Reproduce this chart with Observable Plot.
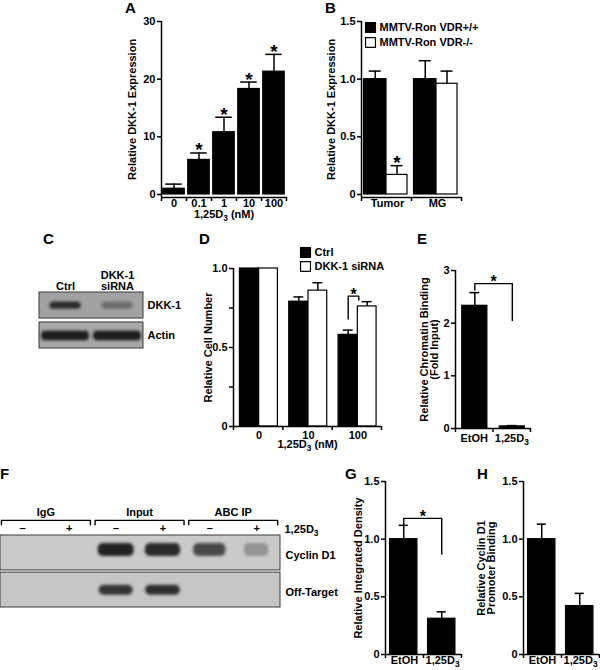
<!DOCTYPE html>
<html>
<head>
<meta charset="utf-8">
<script src="https://cdn.jsdelivr.net/npm/d3@7"></script>
<script src="https://cdn.jsdelivr.net/npm/@observablehq/plot@0.6"></script>
<style>
  html, body { margin: 0; padding: 0; background: #fff; }
  #fig { position: relative; width: 600px; height: 670px; overflow: hidden; font-family: "Liberation Sans", Arial, sans-serif; font-weight: bold; color: #000; }
  .letter { position: absolute; font-size: 15px; line-height: 1; font-weight: bold; }
</style>
</head>
<body>
<div id="fig"></div>
<script>
// ---------------- data ----------------
const aDoses = ["0", "0.1", "1", "10", "100"];
const aMean = [1.0, 6.0, 10.8, 18.3, 21.3];
const aErr = [0.8, 1.2, 2.6, 1.2, 3.0];
const aSig = [false, true, true, true, true];
const aTicks = [0, 10, 20, 30];

const bGroups = ["Tumor", "MG"];
const bSeries = ["MMTV-Ron VDR+/+", "MMTV-Ron VDR-/-"];
const bWtMean = [1.0, 1.0];
const bWtErr = [0.07, 0.16];
const bKoMean = [0.17, 0.96];
const bKoErr = [0.08, 0.11];
const bKoSig = [true, false];
const bTicks = [0, 0.5, 1.0, 1.5];

const cLanes = ["Ctrl", "DKK-1\nsiRNA"];
const cRows = ["DKK-1", "Actin"];
const cDkk1 = [0.85, 0.4];
const cActin = [0.95, 0.95];

const dDoses = ["0", "10", "100"];
const dSeries = ["Ctrl", "DKK-1 siRNA"];
const dCtrlMean = [1.0, 0.79, 0.58];
const dCtrlErr = [0, 0.03, 0.03];
const dSiMean = [1.0, 0.86, 0.76];
const dSiErr = [0, 0.05, 0.03];
const dSig = [false, false, true];
const dTicks = [0, 0.25, 0.5, 0.75, 1.0];
const dTickLabels = ["0", "", "0.5", "", "1.0"];

const eCats = ["EtOH", "1,25D3"];
const eMean = [2.33, 0.04];
const eErr = [0.25, 0.015];
const eTicks = [0, 1, 2, 3];

const fGroups = ["IgG", "Input", "ABC IP"];
const fLanes = ["\u2013", "+", "\u2013", "+", "\u2013", "+"];
const fRows = ["Cyclin D1", "Off-Target"];
const fCyclin = [0, 0, 0.92, 0.88, 0.72, 0.3];
const fOffTarget = [0, 0, 0.82, 0.86, 0, 0];

const gCats = ["EtOH", "1,25D3"];
const gMean = [1.0, 0.31];
const gErr = [0.12, 0.06];
const hMean = [1.0, 0.42];
const hErr = [0.13, 0.11];
const ghTicks = [0, 0.5, 1.0, 1.5];

// ---------------- helpers ----------------
const NS = "http://www.w3.org/2000/svg";
const fig = document.getElementById("fig");
const STYLE = "position:absolute;left:0;top:0;background:transparent;overflow:visible;max-width:none;font-family:'Liberation Sans',Arial,sans-serif;font-size:11px;font-weight:bold;color:#000;";

function chart([l, r, t, b], options) {
  const svg = Plot.plot({
    width: 600, height: 670,
    marginLeft: l, marginRight: 600 - r, marginTop: t, marginBottom: 670 - b,
    style: STYLE,
    ...options,
    x: {label: null, ...(options.x || {})},
    y: {label: null, ...(options.y || {})}
  });
  fig.appendChild(svg);
  return svg;
}

const mid = d => (d.x1 + d.x2) / 2;
const fmt1 = v => v === 0 ? "0" : v.toFixed(1);

function barMarks(bars, cap) {
  const e = bars.filter(d => d.err > 0);
  return [
    Plot.rect(bars, {x1: d => d.x1, x2: d => d.x2, y1: 0, y2: d => d.y, fill: d => d.fill, stroke: "#000", strokeWidth: 1.2}),
    Plot.ruleX(e, {x: mid, y1: d => d.y, y2: d => d.y + d.err, strokeWidth: 1.5}),
    Plot.ruleY(e, {y: d => d.y + d.err, x1: d => mid(d) - cap, x2: d => mid(d) + cap, strokeWidth: 1.5})
  ];
}

function stars(data, x, y, size, dy) {
  return Plot.text(data, {x, y, text: () => "*", fontSize: size, lineAnchor: "top", dy});
}

function axesMarks({xDom, yLo, yTop, yTicks, yFmt, bounds, centers, names, pad}) {
  return [
    Plot.ruleX([xDom[0]], {y1: yLo, y2: yTop, strokeWidth: 1.5}),
    Plot.ruleY([yLo], {x1: xDom[0], x2: xDom[1], strokeWidth: 1.5}),
    Plot.axisY(yTicks, {tickSize: 4, tickPadding: 2, tickFormat: yFmt, strokeWidth: 1.5, label: null}),
    Plot.axisX(bounds, {tickSize: 4, tickFormat: () => "", strokeWidth: 1.5, label: null}),
    Plot.axisX(centers, {tickSize: 0, tickPadding: pad, tickFormat: v => names[centers.indexOf(v)], label: null})
  ];
}

function yLabel(label, dx) {
  return Plot.text([label], {text: d => d, frameAnchor: "left", textAnchor: "middle", lineAnchor: "middle",
    rotate: -90, dx, lineHeight: 0.92, fontSize: 11});
}
function xLabel(label, dy) {
  return Plot.text([label], {text: d => d, frameAnchor: "bottom", textAnchor: "middle", dy, lineAnchor: "top", fontSize: 11});
}
function legendMarks(series, dx, dy0, step) {
  const out = [];
  series.forEach((s, i) => {
    out.push(Plot.dot([s], {frameAnchor: "top-left", dx, dy: dy0 + i * step, symbol: "square", r: 5.6,
      fill: i === 0 ? "#000" : "#fff", stroke: "#000", strokeWidth: 1.2}));
    out.push(Plot.text([s], {text: d => d, frameAnchor: "top-left", dx: dx + 9, dy: dy0 + i * step,
      textAnchor: "start", lineAnchor: "middle", fontSize: 11}));
  });
  return out;
}
function bracket(pts) {
  return Plot.line(pts, {x: d => d.x, y: d => d.y, z: d => d.k, strokeWidth: 1.4, curve: "linear"});
}

function addBlur(svg, id, sd) {
  const defs = document.createElementNS(NS, "defs");
  defs.innerHTML = `<filter id="${id}" x="-30%" y="-80%" width="160%" height="260%"><feGaussianBlur stdDeviation="${sd}"/></filter>`;
  svg.insertBefore(defs, svg.firstChild);
  const g = svg.querySelector('[aria-description="bands"]') || [...svg.querySelectorAll('g[aria-label="rect"]')].pop();
  if (g) g.setAttribute("filter", `url(#${id})`);
}

// ---------------- Panel A ----------------
const aBars = aDoses.map((d, i) => ({x1: i + 0.07, x2: i + 0.93, y: aMean[i], err: aErr[i], fill: "#000", sig: aSig[i]}));
chart([161, 286, 21, 197], {
  x: {domain: [0, aDoses.length]},
  y: {domain: [-0.52, 30]},
  marks: [
    ...barMarks(aBars, 0.33),
    stars(aBars.filter(d => d.sig), mid, d => d.y + d.err, 19, -10),
    ...axesMarks({xDom: [0, aDoses.length], yLo: -0.52, yTop: 30, yTicks: aTicks, yFmt: d3.format("d"),
      bounds: d3.range(aDoses.length + 1), centers: aDoses.map((d, i) => i + 0.5), names: aDoses, pad: 2}),
    yLabel("Relative DKK-1 Expression", -29),
    xLabel("1,25D3 (nM)", 13)
  ]
});

// ---------------- Panel B ----------------
const bBars = [];
bGroups.forEach((g, i) => {
  bBars.push({x1: i + 0.05, x2: i + 0.5, y: bWtMean[i], err: bWtErr[i], fill: "#000", sig: false});
  bBars.push({x1: i + 0.5, x2: i + 0.92, y: bKoMean[i], err: bKoErr[i], fill: "#fff", sig: bKoSig[i]});
});
chart([361, 461, 21, 197], {
  x: {domain: [0, bGroups.length]},
  y: {domain: [-0.026, 1.5]},
  marks: [
    ...barMarks(bBars, 0.12),
    stars(bBars.filter(d => d.sig), mid, d => d.y + d.err, 19, -10),
    ...axesMarks({xDom: [0, bGroups.length], yLo: -0.026, yTop: 1.5, yTicks: bTicks, yFmt: fmt1,
      bounds: d3.range(bGroups.length + 1), centers: bGroups.map((d, i) => i + 0.52), names: bGroups, pad: 2}),
    yLabel("Relative DKK-1 Expression", -30),
    ...legendMarks(bSeries, 9, 6, 15)
  ]
});

// ---------------- Panel C (blot) ----------------
const cData = [cDkk1, cActin];
const cBands = [];
cRows.forEach((r, ri) => cLanes.forEach((l, li) => cBands.push({ri, li, v: cData[ri][li]})));
const cBandY = [0.47, 1.55], cBandH = [0.13, 0.17], cBandW = [0.3, 0.46];
const cSvg = chart([39, 143, 292, 348], {
  x: {domain: [-0.5, cLanes.length - 0.5], axis: null},
  y: {domain: [0, 2], reverse: true, axis: null},
  marks: [
    Plot.rect(cRows, {x1: -0.5, x2: cLanes.length - 0.5, y1: (d, i) => i === 0 ? 0 : 1.07, y2: (d, i) => i === 0 ? 0.93 : 2,
      fill: (d, i) => i === 0 ? "#a2a2a2" : "#a8a8a8", stroke: "#3a3a3a", strokeWidth: 1}),
    Plot.rect(cBands.filter(d => d.v > 0), {
      x1: d => d.li - cBandW[d.ri], x2: d => d.li + cBandW[d.ri],
      y1: d => cBandY[d.ri] - cBandH[d.ri], y2: d => cBandY[d.ri] + cBandH[d.ri],
      fill: d => d3.interpolateRgb("#a6a6a6", "#141414")(d.v), rx: 4, ariaDescription: "bands"}),
    Plot.text(cLanes, {x: (d, i) => i, y: 0, text: d => d, lineAnchor: "bottom", dy: -3, lineHeight: 1.0, fontSize: 11}),
    Plot.text(cRows, {x: cLanes.length - 0.5, y: (d, i) => cBandY[i], text: d => d, textAnchor: "start", dx: 4, fontSize: 11})
  ]
});
addBlur(cSvg, "blurC", 1.4);

// ---------------- Panel D ----------------
const dCtrl = dDoses.map((d, i) => ({x1: i + 0.13, x2: i + 0.52, y: dCtrlMean[i], err: dCtrlErr[i], fill: "#000"}));
const dSi = dDoses.map((d, i) => ({x1: i + 0.52, x2: i + 0.9, y: dSiMean[i], err: dSiErr[i], fill: "#fff"}));
const dBr = [], dStar = [];
dDoses.forEach((g, i) => {
  if (!dSig[i]) return;
  const b = dCtrl[i], w = dSi[i];
  const top = Math.max(b.y + b.err, w.y + w.err) + 0.035;
  const lx = mid(b), rx = w.x1 + 0.02;
  dBr.push({k: i, x: lx, y: b.y + b.err + 0.07}, {k: i, x: lx, y: top}, {k: i, x: rx, y: top}, {k: i, x: rx, y: w.y + w.err + 0.01});
  dStar.push({x: (lx + rx) / 2, y: top});
});
chart([233, 381, 268, 426], {
  x: {domain: [0, dDoses.length]},
  y: {domain: [0, 1]},
  marks: [
    ...barMarks([...dCtrl, ...dSi], 0.1),
    bracket(dBr),
    stars(dStar, d => d.x, d => d.y, 16, -8),
    ...axesMarks({xDom: [0, dDoses.length], yLo: 0, yTop: 1, yTicks: dTicks, yFmt: v => dTickLabels[dTicks.indexOf(v)],
      bounds: d3.range(dDoses.length + 1), centers: dDoses.map((d, i) => i + 0.52), names: dDoses, pad: 5}),
    yLabel("Relative Cell Number", -25),
    xLabel("1,25D3 (nM)", 14),
    ...legendMarks(dSeries, 72, -16, 14)
  ]
});

// ---------------- Panel E ----------------
const eBars = eCats.map((d, i) => ({x1: i + 0.18, x2: i + 0.85, y: eMean[i], err: eErr[i], fill: "#000"}));
const eTop = eBars[0].y + eBars[0].err;
const eBr = [
  {k: 0, x: mid(eBars[0]), y: eTop + 0.05}, {k: 0, x: mid(eBars[0]), y: eTop + 0.17},
  {k: 0, x: mid(eBars[1]), y: eTop + 0.17}, {k: 0, x: mid(eBars[1]), y: eTop - 0.53}
];
chart([455, 530, 270, 428], {
  x: {domain: [0, eCats.length]},
  y: {domain: [0, 3]},
  marks: [
    ...barMarks(eBars, 0.13),
    bracket(eBr),
    stars([{x: (mid(eBars[0]) + mid(eBars[1])) / 2, y: eTop + 0.17}], d => d.x, d => d.y, 16, -8),
    ...axesMarks({xDom: [0, eCats.length], yLo: 0, yTop: 3, yTicks: eTicks, yFmt: d3.format("d"),
      bounds: d3.range(eCats.length + 1), centers: eCats.map((d, i) => i + 0.5), names: eCats, pad: 6}),
    yLabel("Relative Chromatin Binding\n(Fold Input)", -26)
  ]
});

// ---------------- Panel F (blot) ----------------
const fData = [fCyclin, fOffTarget];
const fBands = [];
fRows.forEach((r, ri) => fLanes.forEach((l, li) => fBands.push({ri, li, v: fData[ri][li]})));
const fBandY = [0.4, 1.52], fBandH = [0.18, 0.14];
const fX0 = -0.47, fX1 = 5.51;
const fBr = [];
fGroups.forEach((g, k) => {
  const a = 2 * k - 0.45, b = 2 * k + 1.45;
  fBr.push({k, x: a, y: -0.3}, {k, x: a, y: -0.42}, {k, x: b, y: -0.42}, {k, x: b, y: -0.3});
});
const fSvg = chart([0, 280, 535, 607], {
  x: {domain: [fX0, fX1], axis: null},
  y: {domain: [0, 2], reverse: true, axis: null},
  marks: [
    Plot.rect(fRows, {x1: fX0, x2: fX1, y1: (d, i) => i === 0 ? 0 : 1.03, y2: (d, i) => i === 0 ? 0.97 : 2,
      fill: (d, i) => i === 0 ? "#cacaca" : "#c6c6c6", stroke: "#3a3a3a", strokeWidth: 1}),
    Plot.rect(fBands.filter(d => d.v > 0), {
      x1: d => d.li - (0.2 + 0.2 * d.v), x2: d => d.li + (0.2 + 0.2 * d.v),
      y1: d => fBandY[d.ri] - fBandH[d.ri], y2: d => fBandY[d.ri] + fBandH[d.ri],
      fill: d => d3.interpolateRgb("#c8c8c8", "#161616")(d.v), rx: 5, ariaDescription: "bands"}),
    bracket(fBr),
    Plot.text(fGroups, {x: (d, k) => 2 * k + 0.5, y: -0.64, text: d => d, fontSize: 11}),
    Plot.text(fLanes, {x: (d, i) => i, y: -0.19, text: d => d, fontSize: 11}),
    Plot.text(["1,25D3"], {x: fX1, y: -0.17, text: d => d, textAnchor: "start", dx: 4, fontSize: 11}),
    Plot.text(fRows, {x: fX1, y: (d, i) => i === 0 ? 0.55 : 1.58, text: d => d, textAnchor: "start", dx: 5, fontSize: 11})
  ]
});
addBlur(fSvg, "blurF", 1.6);

// ---------------- Panels G & H ----------------
function ghPanel(frame, mean, err, label, dx, sigBracket) {
  const bars = gCats.map((d, i) => ({x1: i + 0.12, x2: i + 0.84, y: mean[i], err: err[i], fill: "#000"}));
  const marks = [...barMarks(bars, 0.12)];
  if (sigBracket) {
    const t0 = bars[0].y + bars[0].err;
    const top = t0 + 0.06;
    marks.push(bracket([
      {k: 0, x: mid(bars[0]), y: t0}, {k: 0, x: mid(bars[0]), y: top},
      {k: 0, x: mid(bars[1]), y: top}, {k: 0, x: mid(bars[1]), y: top - 0.31}
    ]));
    marks.push(stars([{x: (mid(bars[0]) + mid(bars[1])) / 2, y: top}], d => d.x, d => d.y, 16, -8));
  }
  marks.push(...axesMarks({xDom: [0, gCats.length], yLo: 0, yTop: 1.5, yTicks: ghTicks, yFmt: fmt1,
    bounds: d3.range(gCats.length + 1), centers: gCats.map((d, i) => i + 0.5), names: gCats, pad: 2}));
  marks.push(yLabel(label, dx));
  chart(frame, {x: {domain: [0, gCats.length]}, y: {domain: [0, 1.5]}, marks});
}
ghPanel([385, 461, 481, 654], gMean, gErr, "Relative Integrated Density", -27, true);
ghPanel([523, 599, 481, 654], hMean, hErr, "Relative Cyclin D1\nPromoter Binding", -37, false);

// ---------------- subscripts ----------------
fig.querySelectorAll("text, tspan").forEach(t => {
  if (t.childElementCount > 0) return;
  const s = t.textContent;
  const k = s.indexOf("D3");
  if (k < 0) return;
  t.textContent = s.slice(0, k + 1);
  const sub = document.createElementNS(NS, "tspan");
  sub.setAttribute("dy", "3");
  sub.setAttribute("font-size", "0.75em");
  sub.textContent = "3";
  t.appendChild(sub);
  const rest = s.slice(k + 2);
  if (rest) {
    const r = document.createElementNS(NS, "tspan");
    r.setAttribute("dy", "-3");
    r.textContent = rest;
    t.appendChild(r);
  }
});

// ---------------- panel letters ----------------
[["A", 125, 0], ["B", 325, 0], ["C", 43, 231], ["D", 199, 231], ["E", 417, 231],
 ["F", 0, 466], ["G", 345, 466], ["H", 477, 466]].forEach(([t, x, y]) => {
  const el = document.createElement("div");
  el.className = "letter";
  el.style.left = x + "px";
  el.style.top = y + "px";
  el.textContent = t;
  fig.appendChild(el);
});
</script>
</body>
</html>
